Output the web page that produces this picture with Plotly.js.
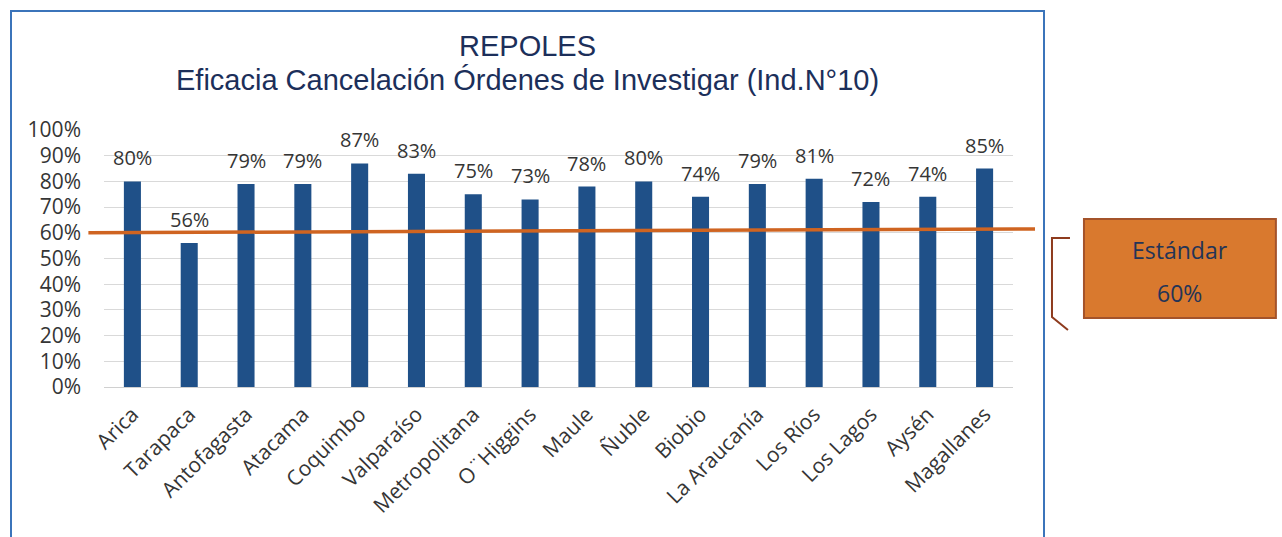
<!DOCTYPE html>
<html>
<head>
<meta charset="utf-8">
<script src="https://cdn.plot.ly/plotly-3.0.1.min.js"></script>
<style>
html,body{margin:0;padding:0;background:#fff;overflow:hidden;}
#wrap{position:relative;width:1282px;height:537px;}
#chart{position:absolute;left:0;top:0;width:1282px;height:537px;}
#frame{position:absolute;left:10px;top:10px;width:1031px;height:560px;border:2px solid #3b74ba;pointer-events:none;}
</style>
</head>
<body>
<div id="wrap"><div id="chart"></div><div id="frame"></div></div>
<script>
const categories = ["Arica","Tarapaca","Antofagasta","Atacama","Coquimbo","Valparaíso","Metropolitana","O¨Higgins","Maule","Ñuble","Biobio","La Araucanía","Los Ríos","Los Lagos","Aysén","Magallanes"];
const values = [80,56,79,79,87,83,75,73,78,80,74,79,81,72,74,85];
const yTickVals = [0,10,20,30,40,50,60,70,80,90,100];
const yTickText = ["0%","10%","20%","30%","40%","50%","60%","70%","80%","90%","100%"];
const standard = 60;
const titleLine1 = "REPOLES";
const titleLine2 = "Eficacia Cancelación Órdenes de Investigar (Ind.N°10)";
const boxLine1 = "Estándar";
const boxLine2 = "60%";

const W = 1282, H = 537;
const mL = 103.6, mR = 269, mT = 130, mB = 150;
const pw = W - mL - mR, ph = H - mT - mB;
const fx = px => (px - mL) / pw;
const fy = py => (H - mB - py) / ph;

const font = "'Open Sans', 'Noto Sans', sans-serif";
const titleFont = "'Liberation Sans', Arial, sans-serif";
const trace = {
  type: "bar",
  x: categories,
  y: values,
  marker: {color: "#1f5088"},
  width: 0.3,
  hoverinfo: "x+y"
};

const labelAnnotations = categories.map((c, i) => ({
  xref: "x", yref: "y", x: c, y: values[i], text: values[i] + "%",
  showarrow: false, yanchor: "bottom", yshift: 8,
  font: {family: font, size: 20, color: "#353535"}
}));

const layout = {
  width: W, height: H,
  margin: {l: mL, r: mR, t: mT, b: mB, pad: 0},
  paper_bgcolor: "#ffffff",
  plot_bgcolor: "#ffffff",
  showlegend: false,
  xaxis: {
    type: "category",
    tickangle: -45,
    tickfont: {family: font, size: 21, color: "#353535"},
    showgrid: false,
    showline: false,
    ticks: "",
    ticklabelstandoff: 10,
    automargin: false
  },
  yaxis: {
    range: [0, 100],
    tickvals: yTickVals,
    ticktext: yTickText,
    tickfont: {family: font, size: 21, color: "#353535"},
    showgrid: true,
    gridcolor: "#d9d9d9",
    gridwidth: 1,
    zeroline: true,
    zerolinecolor: "#d0d0d0",
    showline: false,
    ticks: "",
    ticklabelstandoff: 22,
    automargin: false
  },
  shapes: [
    {type: "line", xref: "paper", yref: "y", x0: fx(88), x1: fx(1035), y0: standard, y1: standard + 1.5,
     line: {color: "#cf6421", width: 3.5}, layer: "above"},
    {type: "rect", xref: "paper", yref: "paper", x0: fx(1084), x1: fx(1276), y0: fy(318), y1: fy(219),
     fillcolor: "#d9792e", line: {color: "#a4532a", width: 2}},
    {type: "path", xref: "paper", yref: "paper",
     path: `M ${fx(1070)} ${fy(238)} L ${fx(1052)} ${fy(238)} L ${fx(1052)} ${fy(317)} L ${fx(1068)} ${fy(330)}`,
     line: {color: "#8e3b1e", width: 2}}
  ],
  annotations: labelAnnotations.concat([
    {xref: "paper", yref: "paper", x: fx(527), y: fy(46), text: titleLine1, showarrow: false,
     font: {family: titleFont, size: 29, color: "#1c2f5a"}, xanchor: "center", yanchor: "middle"},
    {xref: "paper", yref: "paper", x: fx(527), y: fy(80), text: titleLine2, showarrow: false,
     font: {family: titleFont, size: 29, color: "#1c2f5a"}, xanchor: "center", yanchor: "middle"},
    {xref: "paper", yref: "paper", x: fx(1180), y: fy(250), text: boxLine1, showarrow: false,
     font: {family: font, size: 23, color: "#233457"}, xanchor: "center", yanchor: "middle"},
    {xref: "paper", yref: "paper", x: fx(1180), y: fy(293), text: boxLine2, showarrow: false,
     font: {family: font, size: 23, color: "#233457"}, xanchor: "center", yanchor: "middle"}
  ])
};

Plotly.newPlot("chart", [trace], layout, {displayModeBar: false, staticPlot: true});
</script>
</body>
</html>
